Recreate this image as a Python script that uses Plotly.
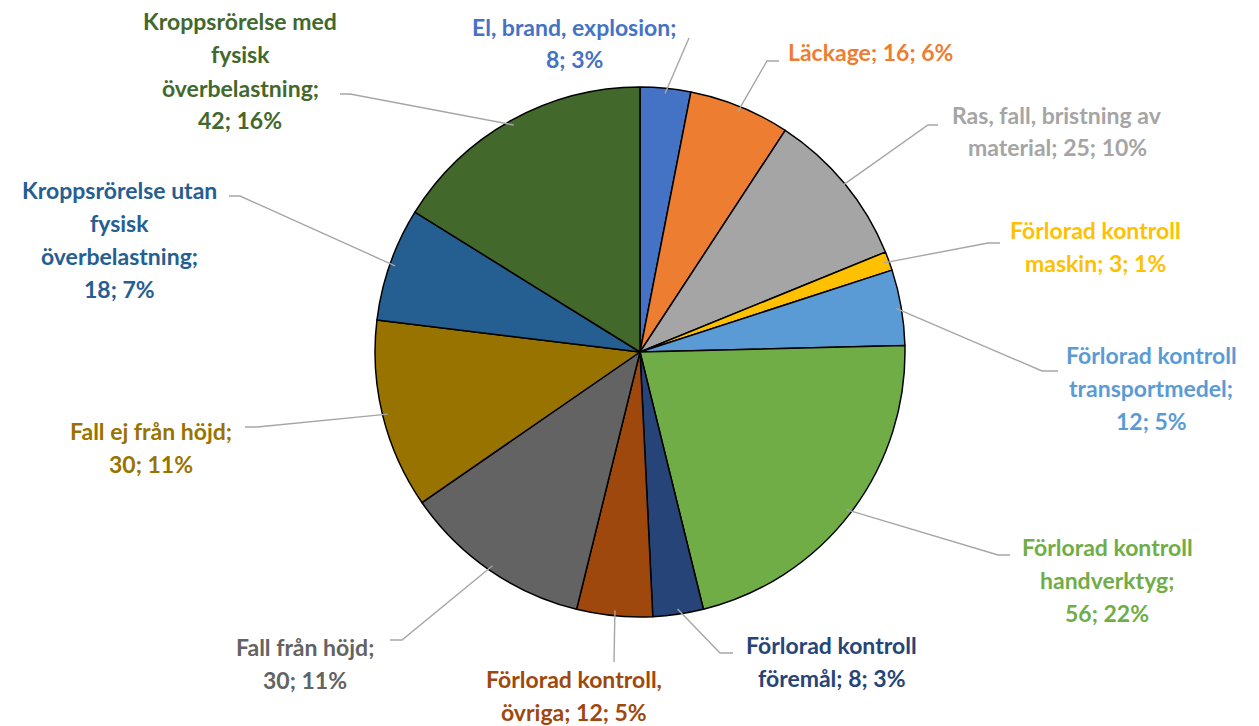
import numpy as np
import plotly.graph_objects as go

# Data
labels = [
    "El, brand, explosion",
    "Läckage",
    "Ras, fall, bristning av material",
    "Förlorad kontroll maskin",
    "Förlorad kontroll transportmedel",
    "Förlorad kontroll handverktyg",
    "Förlorad kontroll föremål",
    "Förlorad kontroll, övriga",
    "Fall från höjd",
    "Fall ej från höjd",
    "Kroppsrörelse utan fysisk överbelastning",
    "Kroppsrörelse med fysisk överbelastning",
]
values = [8, 16, 25, 3, 12, 56, 8, 12, 30, 30, 18, 42]
label_texts = [
    "El, brand, explosion;<br>8; 3%",
    "Läckage; 16; 6%",
    "Ras, fall, bristning av<br>material; 25; 10%",
    "Förlorad kontroll<br>maskin; 3; 1%",
    "Förlorad kontroll<br>transportmedel;<br>12; 5%",
    "Förlorad kontroll<br>handverktyg;<br>56; 22%",
    "Förlorad kontroll<br>föremål; 8; 3%",
    "Förlorad kontroll,<br>övriga; 12; 5%",
    "Fall från höjd;<br>30; 11%",
    "Fall ej från höjd;<br>30; 11%",
    "Kroppsrörelse utan<br>fysisk<br>överbelastning;<br>18; 7%",
    "Kroppsrörelse med<br>fysisk<br>överbelastning;<br>42; 16%",
]
colors = [
    "#4472C4", "#ED7D31", "#A5A5A5", "#FFC000", "#5B9BD5", "#70AD47",
    "#264478", "#9E480E", "#636363", "#997300", "#255E91", "#43682B",
]

W, H = 1259, 726
CX, CY, R = 640, 352, 265  # pie centre / radius in pixels
LINE_H = 33  # label line spacing in pixels

# label block centres (pixels)
label_pos = [
    (574, 43), (870, 52), (1057, 131), (1095, 246), (1151, 388), (1107, 580),
    (831, 661), (574, 695), (305, 663), (151, 447), (119, 239), (240, 71),
]
# leader line points from label side to elbow (pixels)
leader_pts = [
    [(689, 38)],
    [(779, 61), (767, 61)],
    [(938, 125), (928, 125)],
    [(1000, 243), (988, 243)],
    [(1058, 371), (1042, 371)],
    [(1010, 555), (998, 555)],
    [(733, 653), (720, 653)],
    [(614, 662)],
    [(390, 640), (402, 640)],
    [(245, 427), (257, 427)],
    [(229, 196), (240, 196)],
    [(340, 94), (350, 94)],
]


def px(x, y):
    return x / W, 1 - y / H


fig = go.Figure()
fig.add_trace(
    go.Pie(
        labels=labels,
        values=values,
        sort=False,
        direction="clockwise",
        rotation=0,
        textinfo="none",
        hoverinfo="label+value+percent",
        marker=dict(colors=colors, line=dict(color="#000000", width=1.5)),
        domain=dict(x=[(CX - R) / W, (CX + R) / W], y=[1 - (CY + R) / H, 1 - (CY - R) / H]),
        showlegend=False,
    )
)

# leader lines, ending at the mid angle of each slice
total = float(np.sum(values))
cum = np.cumsum(values) - np.array(values) / 2.0
shapes = []
for i, v in enumerate(values):
    ang = np.deg2rad(cum[i] / total * 360.0)
    ex = CX + 0.98 * R * np.sin(ang)
    ey = CY - 0.98 * R * np.cos(ang)
    pts = leader_pts[i] + [(ex, ey)]
    path = ""
    for j, (x, y) in enumerate(pts):
        xp, yp = px(x, y)
        path += ("M" if j == 0 else " L") + f" {xp:.5f},{yp:.5f}"
    shapes.append(
        dict(type="path", path=path, xref="paper", yref="paper",
             line=dict(color="#A6A6A6", width=1.4))
    )

# one annotation per text line, so the line spacing matches
annotations = []
for i, t in enumerate(label_texts):
    lines = t.split("<br>")
    x0, y0 = label_pos[i]
    for k, line in enumerate(lines):
        yk = y0 + (k - (len(lines) - 1) / 2.0) * LINE_H
        x, y = px(x0, yk)
        annotations.append(
            dict(
                text=line, x=x, y=y, xref="paper", yref="paper",
                xanchor="center", yanchor="middle", showarrow=False,
                font=dict(family="Lato", size=23, color=colors[i], weight="bold"),
            )
        )

fig.update_layout(
    width=W,
    height=H,
    margin=dict(l=0, r=0, t=0, b=0),
    paper_bgcolor="#FFFFFF",
    plot_bgcolor="#FFFFFF",
    shapes=shapes,
    annotations=annotations,
)

fig.write_html(
    "out.html",
    config={"displayModeBar": False},
    post_script="document.body.style.margin = '0';",
)
